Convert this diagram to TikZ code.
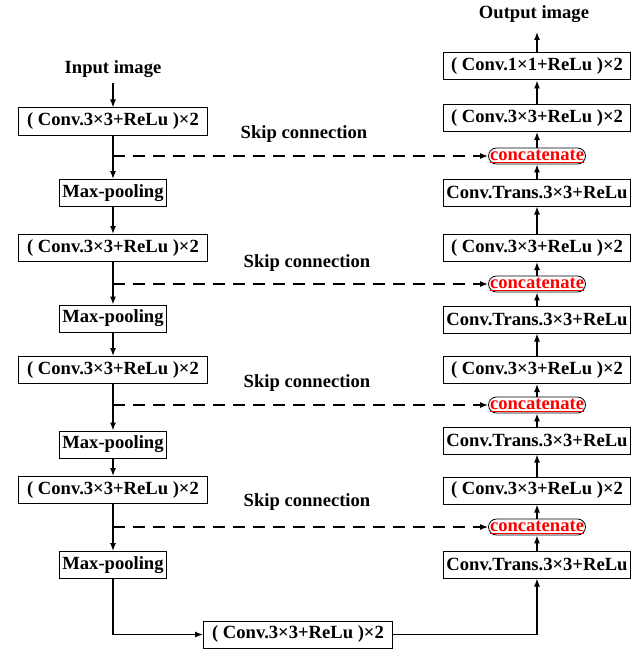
\documentclass[tikz,border=0pt]{standalone}
\usepackage{fontspec}
\setmainfont{Liberation Serif}
\usetikzlibrary{arrows.meta}
\begin{document}
\begin{tikzpicture}[x=1pt,y=-1pt,
  font=\fontsize{18.6}{20}\selectfont\bfseries,
  box/.style={draw, line width=1pt, minimum height=27pt, inner xsep=1pt, inner ysep=0pt},
  conv/.style={box, minimum width=189pt},
  rconv/.style={box, minimum width=187pt},
  pool/.style={box, minimum width=107pt},
  cat/.style={draw, line width=0.8pt, rounded corners=8pt, minimum width=97pt, minimum height=16pt, inner sep=0pt, text=red},
  lbl/.style={inner sep=0pt},
  arr/.style={line width=1.3pt, -{Latex[length=8pt,width=6pt]}},
  skip/.style={arr, dash pattern=on 12pt off 8pt}
]
\useasboundingbox (0,0) rectangle (644,650);
% left column
\node[lbl] (in) at (113,69) {Input image};
\node[conv] (L1) at (113,121.5) {( Conv.3×3+ReLu )×2};
\node[pool] (M1) at (113,193) {Max-pooling};
\node[conv] (L2) at (113,248) {( Conv.3×3+ReLu )×2};
\node[pool] (M2) at (113,318.5) {Max-pooling};
\node[conv] (L3) at (113,370) {( Conv.3×3+ReLu )×2};
\node[pool] (M3) at (113,444.5) {Max-pooling};
\node[conv] (L4) at (113,490) {( Conv.3×3+ReLu )×2};
\node[pool] (M4) at (113,565) {Max-pooling};
\node[conv] (B) at (298,634.5) {( Conv.3×3+ReLu )×2};
% right column
\node[lbl] (outl) at (534,14) {Output image};
\coordinate (out) at (537,32);
\node[rconv] (R1) at (537,66.5) {( Conv.1×1+ReLu )×2};
\node[rconv] (R2) at (537,118) {( Conv.3×3+ReLu )×2};
\node[cat] (C1) at (537,156) {\underline{concatenate}};
\node[rconv] (T1) at (537,192.5) {Conv.Trans.3×3+ReLu};
\node[rconv] (R3) at (537,248) {( Conv.3×3+ReLu )×2};
\node[cat] (C2) at (537,284) {\underline{concatenate}};
\node[rconv] (T2) at (537,319.5) {Conv.Trans.3×3+ReLu};
\node[rconv] (R4) at (537,370) {( Conv.3×3+ReLu )×2};
\node[cat] (C3) at (537,405) {\underline{concatenate}};
\node[rconv] (T3) at (537,440.5) {Conv.Trans.3×3+ReLu};
\node[rconv] (R5) at (537,490.5) {( Conv.3×3+ReLu )×2};
\node[cat] (C4) at (537,527) {\underline{concatenate}};
\node[rconv] (T4) at (537,564.5) {Conv.Trans.3×3+ReLu};
% skip labels
\node[lbl] (S1) at (304,134) {Skip connection};
\node[lbl] (S2) at (307,263) {Skip connection};
\node[lbl] (S3) at (307,383) {Skip connection};
\node[lbl] (S4) at (307,502) {Skip connection};
% left arrows
\draw[arr, shorten <=5pt] (in.south) -- (L1.north);
\draw[arr] (L1) -- (M1);
\draw[arr] (M1) -- (L2);
\draw[arr] (L2) -- (M2);
\draw[arr] (M2) -- (L3);
\draw[arr] (L3) -- (M3);
\draw[arr] (M3) -- (L4);
\draw[arr] (L4) -- (M4);
\draw[arr] (M4.south) |- (B.west);
\draw[arr] (B.east) -| (T4.south);
% right arrows
\draw[arr] (T4) -- (C4);
\draw[arr] (C4) -- (R5);
\draw[arr] (R5) -- (T3);
\draw[arr] (T3) -- (C3);
\draw[arr] (C3) -- (R4);
\draw[arr] (R4) -- (T2);
\draw[arr] (T2) -- (C2);
\draw[arr] (C2) -- (R3);
\draw[arr] (R3) -- (T1);
\draw[arr] (T1) -- (C1);
\draw[arr] (C1) -- (R2);
\draw[arr] (R2) -- (R1);
\draw[arr] (R1.north) -- (out);
% skip connections
\draw[skip] (L1.south |- C1.west) -- (C1.west);
\draw[skip] (L2.south |- C2.west) -- (C2.west);
\draw[skip] (L3.south |- C3.west) -- (C3.west);
\draw[skip] (L4.south |- C4.west) -- (C4.west);
\end{tikzpicture}
\end{document}
